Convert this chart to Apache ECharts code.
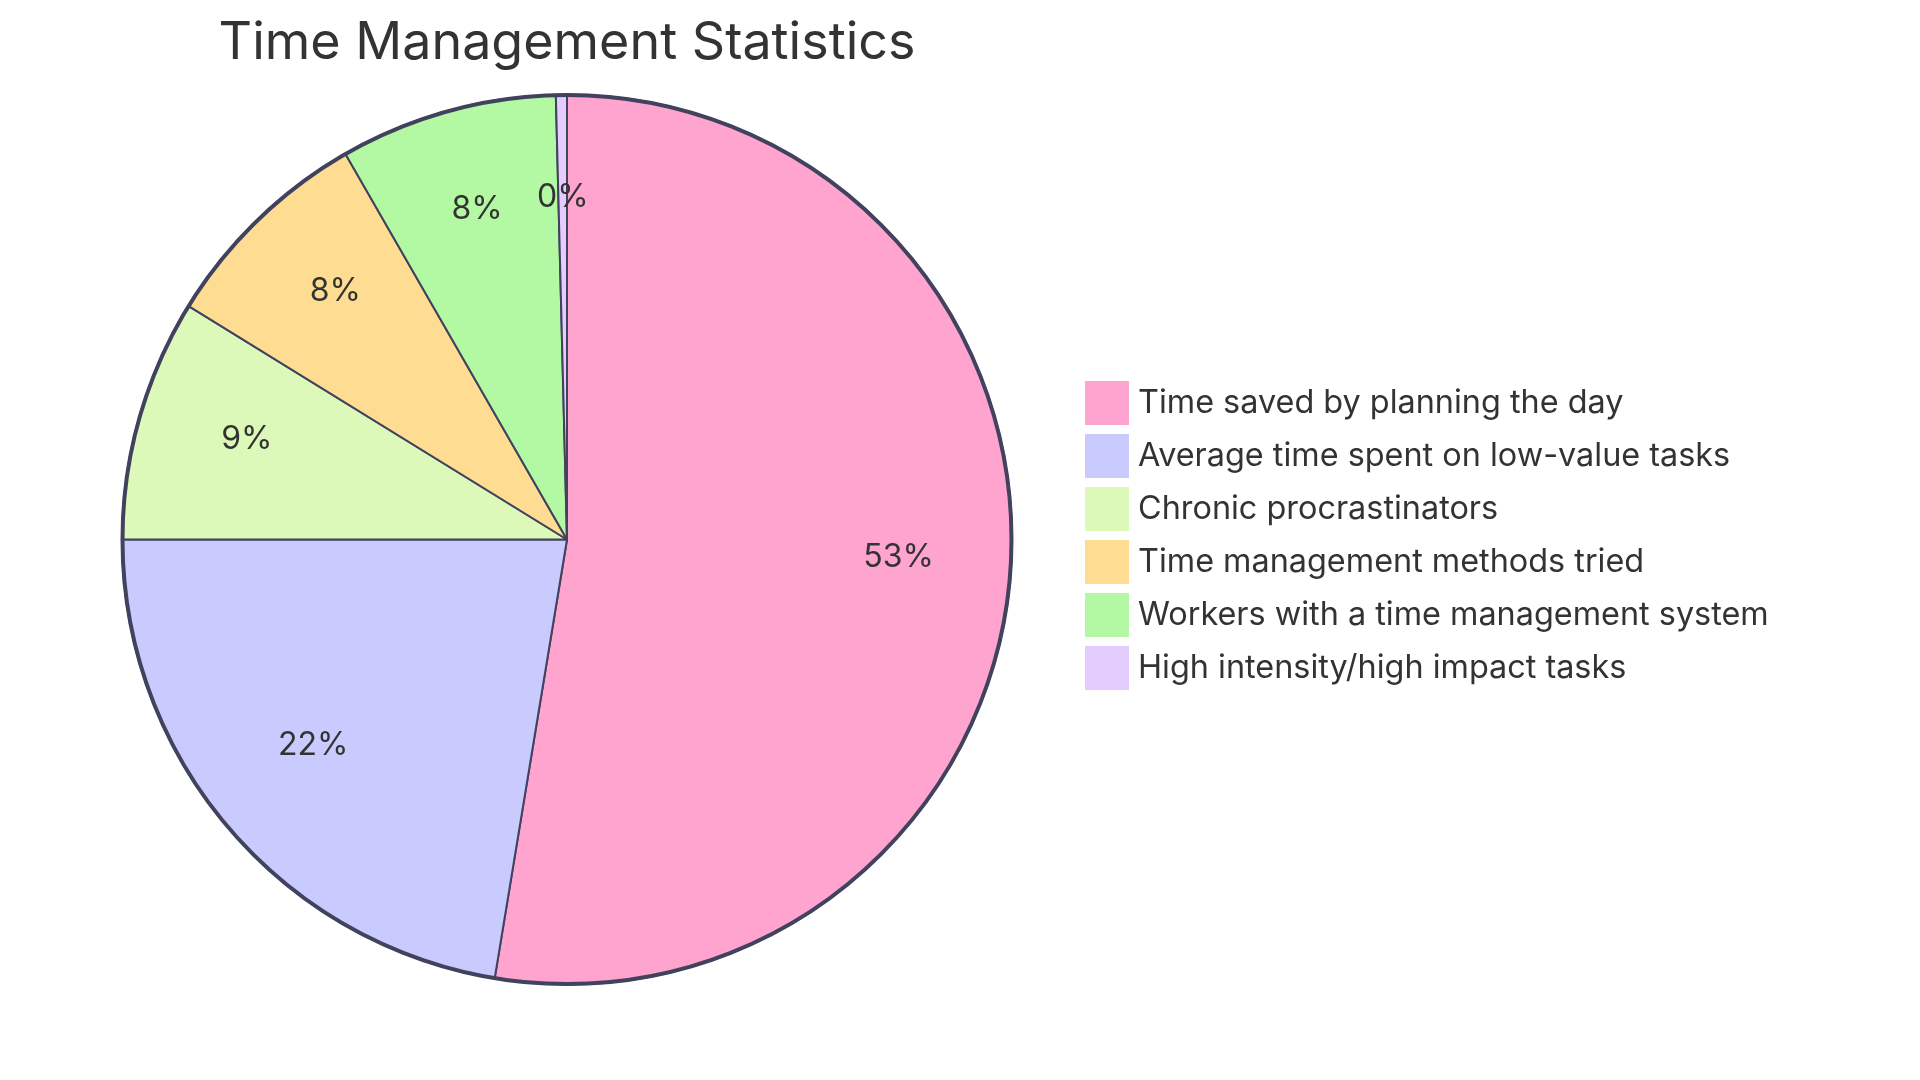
<!DOCTYPE html>
<html>
<head>
<meta charset="utf-8">
<script src="https://cdn.jsdelivr.net/npm/echarts@6/dist/echarts.min.js"></script>
<style>html,body{margin:0;padding:0;background:#fff;}#c{width:1920px;height:1080px;}</style>
</head>
<body>
<div id="c"></div>
<script>
const titleText = 'Time Management Statistics';
const categories = [
  'Time saved by planning the day',
  'Average time spent on low-value tasks',
  'Chronic procrastinators',
  'Time management methods tried',
  'Workers with a time management system',
  'High intensity/high impact tasks'
];
const values = [52.6, 22.4, 8.8, 7.9, 7.9, 0.4];
const colors = ['#FFA3CF', '#C9CBFF', '#DDF9BA', '#FEDD93', '#B3F8A3', '#E4CCFF'];

const FONT = 'Inter, "Open Sans", sans-serif';
const data = categories.map((n, i) => ({ name: n, value: values[i], itemStyle: { color: colors[i] } }));
const CX = 567, CY = 539.5, R = 445;

const chart = echarts.init(document.getElementById('c'));
chart.setOption({
  animation: false,
  backgroundColor: '#ffffff',
  graphic: [{
    type: 'text',
    style: { text: titleText, x: 567, y: 43, textAlign: 'center', textVerticalAlign: 'middle',
      fontSize: 52, fontFamily: FONT, fill: '#333333' }
  }],
  legend: {
    orient: 'vertical',
    left: 1080,
    top: 376,
    itemWidth: 44,
    itemHeight: 44,
    itemGap: 9,
    icon: 'rect',
    data: categories,
    itemStyle: { borderWidth: 0 },
    textStyle: { fontSize: 32.4, fontFamily: FONT, color: '#333333', padding: [0, 0, 0, 4] }
  },
  series: [{
    type: 'pie',
    center: [CX, CY],
    radius: [0, R],
    startAngle: 90,
    clockwise: true,
    silent: true,
    label: { show: false },
    labelLine: { show: false },
    itemStyle: { borderColor: '#41435E', borderWidth: 2 },
    data: data
  }, {
    type: 'pie',
    center: [CX, CY],
    radius: [214.5, R],
    startAngle: 90,
    clockwise: true,
    silent: true,
    itemStyle: { color: 'rgba(0,0,0,0)', borderWidth: 0 },
    label: {
      show: true, position: 'inside', fontSize: 32, fontFamily: FONT, color: '#333333',
      offset: [0, -9.3],
      formatter: p => Math.round(p.percent) + '%'
    },
    labelLine: { show: false },
    data: categories.map((n, i) => ({ name: n, value: values[i] }))
  }, {
    type: 'pie',
    center: [CX, CY],
    radius: [R - 1, R],
    silent: true,
    label: { show: false },
    itemStyle: { color: 'rgba(0,0,0,0)', borderColor: '#41435E', borderWidth: 3 },
    data: [{ name: '_outline', value: 1 }]
  }]
});
</script>
</body>
</html>
